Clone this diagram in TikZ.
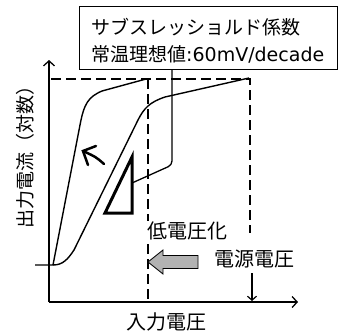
\documentclass[tikz,border=0pt]{standalone}
\usepackage{fontspec}
\setmainfont{Noto Sans CJK JP}
\newfontfamily\latinfont{DejaVu Sans}
\usetikzlibrary{arrows.meta}
\begin{document}
\begin{tikzpicture}[x=1pt,y=-1pt,
  axis/.style={line width=1.3pt,-{Straight Barb[length=5pt,width=11pt,line width=1.3pt]}},
  guide/.style={line width=1.4pt,dash pattern=on 10pt off 5pt},
  curve/.style={line width=1.4pt,line join=round},
  lbl/.style={font=\fontsize{20}{22}\selectfont,inner sep=1pt},
  boxtxt/.style={font=\fontsize{19}{21}\selectfont,anchor=west,inner sep=0pt}]
\useasboundingbox (0,0) rectangle (342,335);
% axes
\coordinate (O) at (49,302);
\coordinate (Ytop) at (49,60);
\coordinate (Xend) at (298,302);
\draw[axis] (O) -- (Ytop);
\draw[axis] (O) -- (Xend);
% guides
\coordinate (G0) at (51,79);
\coordinate (G1) at (148,79);
\coordinate (G2) at (250,79);
\coordinate (G1b) at (148,300);
\coordinate (G2b) at (250,233);
\draw[guide] (G0) -- (G2) -- (G2b);
\draw[guide] (G1) -- (G1b);
% curves
\coordinate (S0) at (35,265);
\coordinate (S1) at (53,265);
\draw[curve] (S0) -- (S1) -- (80,125) .. controls (84,104) and (88,97) .. (102,91) -- (146,79);
\draw[curve] (S1) .. controls (63,265) and (68,259) .. (74,250) -- (138,120) .. controls (144,108) and (150,102) .. (165,97) -- (249,78);
% triangle
\coordinate (T1) at (132,157);
\coordinate (T2) at (132,213);
\coordinate (T3) at (105,213);
\draw[line width=3pt,line join=miter] (T1) -- (T2) -- (T3) -- cycle;
% small arrow
\coordinate (A0) at (104,164);
\coordinate (A1) at (83,151);
\coordinate (Aa) at (96,146);
\coordinate (Ab) at (88,165);
\draw[line width=2.5pt,line cap=round] (A0) .. controls (96,157) .. (A1);
\draw[line width=2.5pt,line cap=round,line join=miter] (Aa) -- (A1) -- (Ab);
% callout box
\node[draw,line width=0.9pt,minimum width=258pt,minimum height=63pt,inner sep=0pt,anchor=north west] (box) at (79,6) {};
\node[boxtxt] (t1) at (91,27) {サブスレッショルド係数};
\node[boxtxt] (t2) at (91,54) {常温理想値{\latinfont :60mV/decade}};
\coordinate (C0) at (172,69);
\coordinate (C1) at (172,165);
\coordinate (C2) at (132,183);
\draw[line width=1.3pt,rounded corners=4pt] (C0) -- (C1) -- (C2);
% labels
\node[lbl,fill=white,anchor=west] (low) at (146,231) {低電圧化};
\node[lbl] (vdd) at (254,259) {電源電圧};
\node[lbl] (xl) at (166,322) {入力電圧};
\node[lbl,font=\fontsize{19}{21}\selectfont,rotate=90] (yl) at (25,152) {出力電流（対数）};
% gray arrow
\draw[fill=gray!60,line width=0.8pt] (148,262) -- (163,250) -- (163,255.5) -- (198,255.5) -- (198,268.5) -- (163,268.5) -- (163,274) -- cycle;
% supply arrow
\coordinate (D0) at (252,273);
\coordinate (D1) at (252,301);
\draw[line width=1.2pt,-{Straight Barb[length=4pt,width=9pt,line width=1.2pt]}] (D0) -- (D1);
\end{tikzpicture}
\end{document}
